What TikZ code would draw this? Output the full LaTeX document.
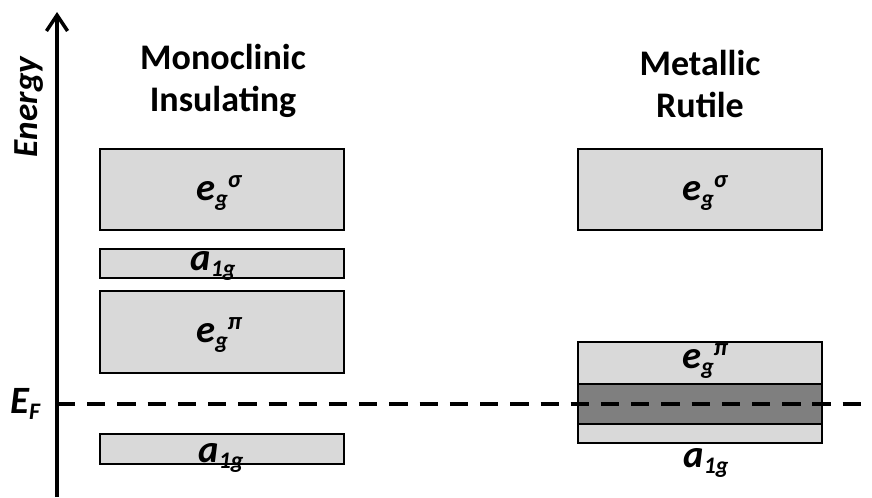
\documentclass[tikz,border=0pt]{standalone}
\usepackage{fontspec}
\setmainfont{Carlito}
\usetikzlibrary{arrows.meta}
\definecolor{bandlight}{HTML}{D9D9D9}
\definecolor{banddark}{HTML}{7F7F7F}
\newcommand\orb[3]{#1\raisebox{-3.5pt}{\fontsize{13.5}{13.5}\selectfont #2}\raisebox{7pt}{\fontsize{14}{14}\selectfont #3}}
\tikzset{
  band/.style={draw=black, line width=1pt, fill=bandlight},
  lbl/.style={anchor=base west, font=\fontsize{22}{22}\selectfont\bfseries\itshape, inner sep=0pt},
  ttl/.style={anchor=base, font=\fontsize{20.5}{20.5}\selectfont\bfseries, inner sep=0pt}
}
\begin{document}
\begin{tikzpicture}[x=0.02cm, y=-0.02cm]
    \useasboundingbox (0,0) rectangle (872,497);
    % left column
    \draw[band] (100,149) rectangle (344,230);
    \draw[band] (100,249) rectangle (344,278);
    \draw[band] (100,291) rectangle (344,373);
    \draw[band] (100,434) rectangle (344,464);
    % right column
    \draw[band] (578,149) rectangle (822,230);
    \draw[band] (578,342) rectangle (822,443);
    \draw[band, fill=banddark] (578,384) rectangle (822,424);
    % axis and Fermi level
    \coordinate (bot) at (57,497);
    \coordinate (top) at (57,12);
    \draw[line width=2.2pt, -{Straight Barb[length=9pt, width=12pt, line width=2pt]}] (bot) -- (top);
    \coordinate (ef) at (57,404);
    \coordinate (efend) at (872,404);
    \draw[line width=2.8pt, dash pattern=on 10.4pt off 6.8pt] (ef) -- (efend);
    \node[anchor=base, rotate=90, inner sep=0pt, font=\fontsize{20}{20}\selectfont\bfseries\itshape] (energy) at (37,107) {Energy};
    \node[lbl] (eflbl) at (10,413) {\orb{E}{F}{}};
    % titles
    \node[ttl] (mono1) at (223,69) {Monoclinic};
    \node[ttl] (mono2) at (223,111) {Insulating};
    \node[ttl] (rut1) at (700,75) {Metallic};
    \node[ttl] (rut2) at (700,117) {Rutile};
    % band labels
    \node[lbl] (lsig) at (196,200) {\orb{e}{g}{σ}};
    \node[lbl] (la1) at (190,270) {\orb{a}{1g}{}};
    \node[lbl] (lpi) at (196,342) {\orb{e}{g}{π}};
    \node[lbl] (la2) at (198,462) {\orb{a}{1g}{}};
    \node[lbl] (rsig) at (682,200) {\orb{e}{g}{σ}};
    \node[lbl] (rpi) at (682,368) {\orb{e}{g}{π}};
    \node[lbl] (ra1) at (683,467) {\orb{a}{1g}{}};
\end{tikzpicture}
\end{document}
